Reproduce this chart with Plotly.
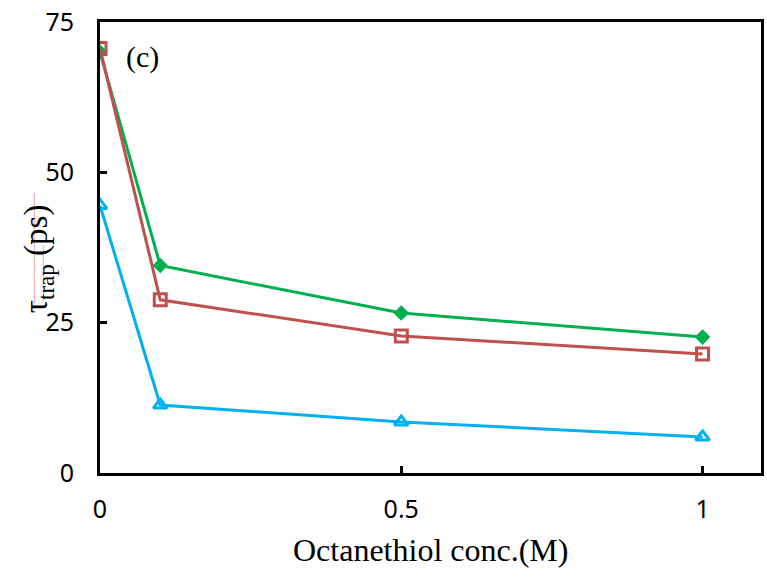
import plotly.graph_objects as go

# Octanethiol concentration (M)
conc = [0, 0.1, 0.5, 1]

# Trap time constants (ps) for the three samples
tau_green = [70.0, 34.5, 26.6, 22.6]
tau_red = [70.6, 28.8, 22.8, 19.8]
tau_blue = [44.5, 11.3, 8.5, 6.0]

x_ticks = [0, 0.5, 1]
x_tick_text = ["0", "0.5", "1"]
y_ticks = [0, 25, 50, 75]

fig = go.Figure()

fig.add_trace(go.Scatter(
    x=conc, y=tau_green, mode="lines+markers",
    line=dict(color="#00B050", width=3),
    marker=dict(symbol="diamond", size=12, color="#00B050"),
    showlegend=False))

fig.add_trace(go.Scatter(
    x=conc, y=tau_red, mode="lines+markers",
    line=dict(color="#C0504D", width=3),
    marker=dict(symbol="square-open", size=12, color="#C0504D",
                line=dict(width=3, color="#C0504D")),
    showlegend=False))

fig.add_trace(go.Scatter(
    x=conc, y=tau_blue, mode="lines+markers",
    line=dict(color="#00B0F0", width=3),
    marker=dict(symbol="triangle-up-open", size=12, color="#00B0F0",
                line=dict(width=3, color="#00B0F0")),
    showlegend=False))

tick_font = dict(family="Noto Sans", size=25, color="black")

fig.update_layout(
    width=767, height=581,
    margin=dict(l=100, r=3, t=22, b=108),
    paper_bgcolor="white", plot_bgcolor="white",
    xaxis=dict(
        range=[0, 1.097], tickmode="array", tickvals=x_ticks, ticktext=x_tick_text,
        showline=True, linecolor="black", linewidth=3, mirror=True,
        ticks="inside", ticklen=7, tickwidth=3, tickcolor="black",
        showgrid=False, zeroline=False, tickfont=tick_font,
        ticklabelstandoff=12,
    ),
    yaxis=dict(
        range=[0, 75], tickmode="array", tickvals=y_ticks,
        showline=True, linecolor="black", linewidth=3, mirror=True,
        ticks="inside", ticklen=7, tickwidth=3, tickcolor="black",
        showgrid=False, zeroline=False, tickfont=tick_font,
        ticklabelstandoff=18,
    ),
)

fig.add_annotation(
    text="Octanethiol conc.(M)", xref="paper", yref="paper",
    x=0.5, y=-0.17, xanchor="center", yanchor="middle", showarrow=False,
    font=dict(family="Liberation Serif", size=32, color="black"))

fig.add_annotation(
    text="τ<sub>trap</sub> (ps)", xref="paper", yref="paper",
    x=-0.093, y=0.475, xanchor="center", yanchor="middle", showarrow=False,
    textangle=-90,
    font=dict(family="Liberation Serif", size=33, color="black"))

# thin proofing underlines beside the y-axis title
for x0, y0, y1 in [(-0.0994, 0.373, 0.621), (-0.0858, 0.403, 0.505)]:
    fig.add_shape(type="line", xref="paper", yref="paper",
                  x0=x0, x1=x0, y0=y0, y1=y1,
                  line=dict(color="#F4A0A0", width=1))

fig.add_annotation(
    text="(c)", xref="paper", yref="paper",
    x=0.037, y=0.922, xanchor="left", yanchor="middle", showarrow=False,
    font=dict(family="Liberation Serif", size=30, color="black"))

fig.write_html("out.html")
